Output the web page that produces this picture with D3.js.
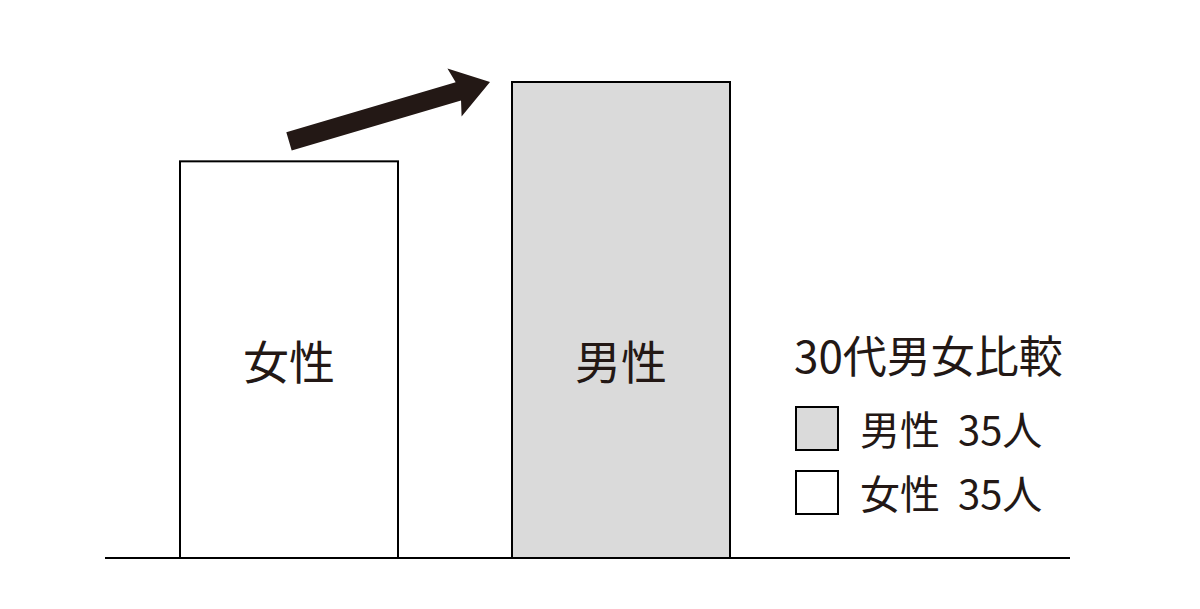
<!DOCTYPE html>
<html>
<head>
<meta charset="utf-8">
<script src="https://cdn.jsdelivr.net/npm/d3@7"></script>
<style>
  html, body { margin: 0; padding: 0; background: #fff; }
  text { font-family: "Noto Sans CJK JP", "Noto Sans", sans-serif; fill: #231815; }
</style>
</head>
<body>
<svg id="chart" width="1200" height="609"></svg>
<script>
// data
var categories = ["女性", "男性"];
var values = [5, 6];
var fills = ["#ffffff", "#dadada"];
var legendTitle = "30代男女比較";
var legendLabels = ["男性 35人", "女性 35人"];
var legendFills = ["#dadada", "#ffffff"];

var svg = d3.select("#chart");
var ink = "#231815";

var x = d3.scaleBand()
  .domain(categories)
  .range([180, 730])
  .paddingInner(114 / 332)
  .paddingOuter(0);

var y = d3.scaleLinear()
  .domain([0, 6])
  .range([558, 82]);

// bars
svg.selectAll("rect.bar")
  .data(categories)
  .enter()
  .append("rect")
  .attr("class", "bar")
  .attr("x", d => x(d))
  .attr("y", (d, i) => y(values[i]))
  .attr("width", x.bandwidth())
  .attr("height", (d, i) => y(0) - y(values[i]))
  .attr("fill", (d, i) => fills[i])
  .attr("stroke", "#000")
  .attr("stroke-width", 2);

// labels inside bars
svg.selectAll("text.barlabel")
  .data(categories)
  .enter()
  .append("text")
  .attr("class", "barlabel")
  .attr("x", d => x(d) + x.bandwidth() / 2)
  .attr("y", 379)
  .attr("text-anchor", "middle")
  .attr("font-size", 46)
  .text(d => d);

// baseline
svg.append("line")
  .attr("x1", 105).attr("x2", 1070)
  .attr("y1", y(0)).attr("y2", y(0))
  .attr("stroke", "#000")
  .attr("stroke-width", 2);

// arrow from female bar to male bar
var tail = [x(categories[0]) + x.bandwidth() / 2, y(values[0]) - 20];
var tip = [x(categories[1]) - 22, y(values[1])];
var dx = tip[0] - tail[0], dy = tip[1] - tail[1];
var len = Math.sqrt(dx * dx + dy * dy);
var ux = dx / len, uy = dy / len;
var nx = -uy, ny = ux;
var shaftW = 19, headW = 50, headL = 37;
var base = [tip[0] - ux * headL, tip[1] - uy * headL];
var pts = [
  [tail[0] + nx * shaftW / 2, tail[1] + ny * shaftW / 2],
  [base[0] + ux * 4 + nx * shaftW / 2, base[1] + uy * 4 + ny * shaftW / 2],
  [base[0] + nx * headW / 2, base[1] + ny * headW / 2],
  tip,
  [base[0] - nx * headW / 2, base[1] - ny * headW / 2],
  [base[0] + ux * 4 - nx * shaftW / 2, base[1] + uy * 4 - ny * shaftW / 2],
  [tail[0] - nx * shaftW / 2, tail[1] - ny * shaftW / 2]
];
svg.append("path")
  .attr("d", d3.line()(pts) + "Z")
  .attr("fill", ink);

// legend
var legend = svg.append("g").attr("transform", "translate(795,0)");
legend.append("text")
  .attr("x", -1)
  .attr("y", 373)
  .attr("font-size", 44)
  .text(legendTitle);

var items = legend.selectAll("g.item")
  .data(legendLabels)
  .enter()
  .append("g")
  .attr("class", "item")
  .attr("transform", (d, i) => "translate(0," + (407 + i * 64) + ")");

items.append("rect")
  .attr("x", 1).attr("y", 0)
  .attr("width", 42).attr("height", 43)
  .attr("fill", (d, i) => legendFills[i])
  .attr("stroke", "#000")
  .attr("stroke-width", 2);

items.append("text")
  .attr("x", 65)
  .attr("y", 38)
  .attr("font-size", 40)
  .attr("word-spacing", 9)
  .text(d => d);
</script>
</body>
</html>
